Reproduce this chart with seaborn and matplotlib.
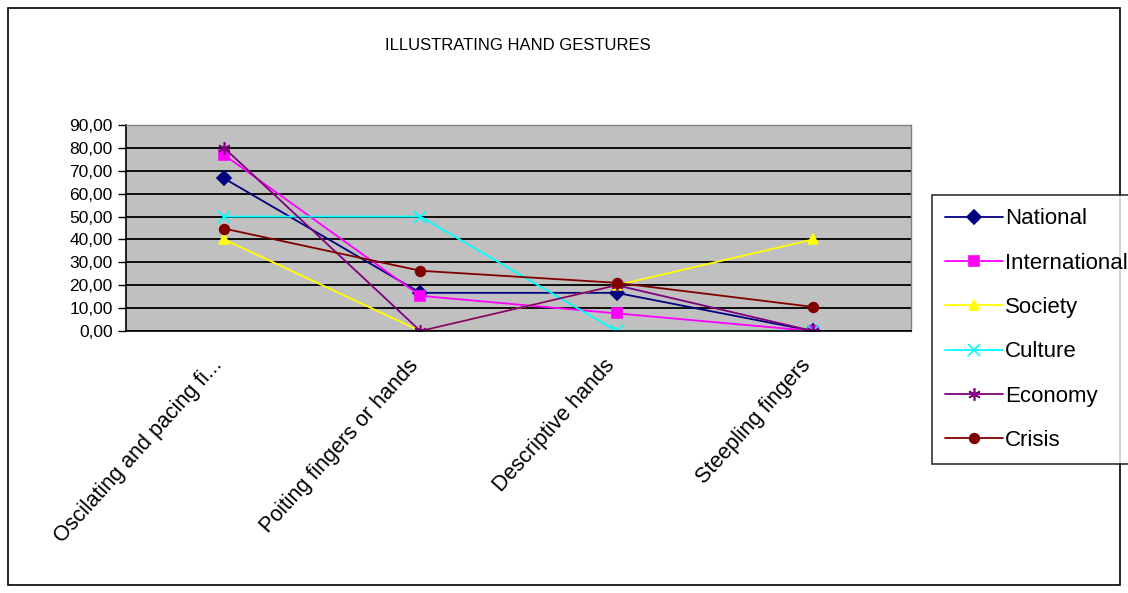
import numpy as np
import pandas as pd
import matplotlib
matplotlib.use("Agg")
import matplotlib.pyplot as plt
import matplotlib.transforms as mtransforms
import seaborn as sns
from matplotlib.patches import Rectangle

# categories and series
gestures = ["Oscilating and pacing fi...", "Poiting fingers or hands",
            "Descriptive hands", "Steepling fingers"]
national = [66.67, 16.67, 16.67, 0.0]
international = [76.92, 15.38, 7.69, 0.0]
society = [40.0, 0.0, 20.0, 40.0]
culture = [50.0, 50.0, 0.0, 0.0]
economy = [80.0, 0.0, 20.0, 0.0]
crisis = [44.74, 26.32, 21.05, 10.53]

series = [("National", national, "#000080", "D"),
          ("International", international, "#FF00FF", "s"),
          ("Society", society, "#FFFF00", "^"),
          ("Culture", culture, "#00FFFF", "x"),
          ("Economy", economy, "#800080", (6, 2, 0)),
          ("Crisis", crisis, "#800000", "o")]

sns.set_style("white", {"text.color": "black", "xtick.color": "black",
                        "ytick.color": "black", "axes.labelcolor": "black"})
plt.rcParams["font.family"] = ["Liberation Sans", "DejaVu Sans"]

fig = plt.figure(figsize=(11.28, 5.93), dpi=100)
ax = fig.add_axes([126/1128, 1-331/593, (911-126)/1128, (331-125)/593])
ax.set_facecolor("#C0C0C0")

for name, vals, col, mk in series:
    df = pd.DataFrame({"gesture": gestures, "value": vals})
    sns.lineplot(data=df, x="gesture", y="value", ax=ax, color=col,
                 marker=mk, markersize=7 if mk not in ("x", (6, 2, 0)) else 9,
                 markeredgecolor=col, markerfacecolor=col, markeredgewidth=1.2,
                 linewidth=1.3, label=name, sort=False)

ax.set_xlim(-0.5, 3.5)
ax.set_ylim(0, 90)
ax.set_yticks(np.arange(0, 91, 10))
ax.set_yticklabels([f"{v:.2f}".replace(".", ",") for v in np.arange(0, 91, 10)],
                   fontsize=12.5)
ax.yaxis.grid(True, color="black", linewidth=1.3)
ax.set_axisbelow(True)

ax.set_xticks(range(len(gestures)))
ax.set_xticklabels(gestures, rotation=48, ha="right", rotation_mode="anchor",
                   fontsize=15.5)
ax.tick_params(axis="x", length=0, pad=10)
shift = mtransforms.ScaledTranslation(-0.13, -0.1, fig.dpi_scale_trans)
for lab in ax.get_xticklabels():
    lab.set_transform(lab.get_transform() + shift)
ax.set_xticks(np.arange(-0.5, 4, 1), minor=True)
ax.tick_params(axis="x", which="minor", length=6, color="black", width=1)
ax.tick_params(axis="y", length=6, color="black", width=1, left=True)
ax.set_xlabel("")
ax.set_ylabel("")

for s in ["left", "bottom"]:
    ax.spines[s].set_color("black")
    ax.spines[s].set_linewidth(1.2)
for s in ["top", "right"]:
    ax.spines[s].set_color("#808080")
    ax.spines[s].set_linewidth(1.0)

handles, labels = ax.get_legend_handles_labels()
ax.get_legend().remove()
leg = fig.legend(handles, labels, loc="upper left", bbox_to_anchor=(932/1128, 1-195/593),
                 frameon=True, fancybox=False, edgecolor="black", fontsize=16,
                 labelspacing=1.05, handlelength=2.6, handletextpad=0.1,
                 borderpad=0.6, borderaxespad=0)
leg.get_frame().set_linewidth(1.2)

fig.text(518/1128, 1-45/593, "ILLUSTRATING HAND GESTURES", ha="center",
         va="center", fontsize=12)

fig.patches.append(Rectangle((8/1128, 8/593), 1112/1128, 577/593,
                             transform=fig.transFigure, fill=False,
                             edgecolor="black", linewidth=1.2))

fig.savefig("out.png", dpi=100)
